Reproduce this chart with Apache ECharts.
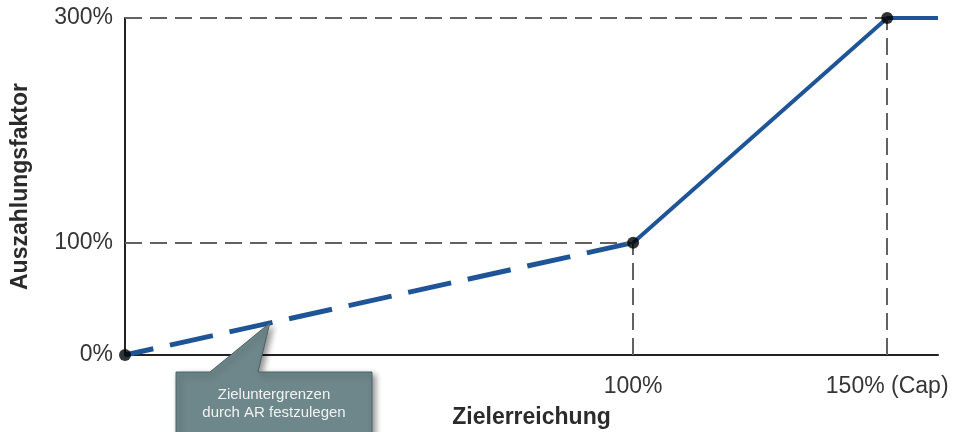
<!DOCTYPE html>
<html>
<head>
<meta charset="utf-8">
<script src="https://cdn.jsdelivr.net/npm/echarts@6/dist/echarts.min.js"></script>
<style>
html,body{margin:0;padding:0;background:#fff;}
#c{width:955px;height:432px;}
</style>
</head>
<body>
<div id="c"></div>
<script>
// Data
var dashedSegment = [[0, 0], [100, 100]];
var solidSegment = [[100, 100], [150, 300], [160, 300]];
var keyPoints = [[0, 0], [100, 100], [150, 300]];
var xTickLabels = {100: '100%', 150: '150% (Cap)'};
var yTickLabels = {0: '0%', 100: '100%', 300: '300%'};
var guideLines = [
  [[0, 100], [100, 100]],
  [[100, 0], [100, 100]],
  [[0, 300], [150, 300]],
  [[150, 0], [150, 300]]
];
var calloutTip = [28.5, 28.5];
var calloutText = 'Zieluntergrenzen\ndurch AR festzulegen';

var blue = '#1F5597';
var chart = echarts.init(document.getElementById('c'));
var font = 'Liberation Sans, Arial, Helvetica, sans-serif';

chart.setOption({
  animation: false,
  grid: {left: 125, right: 17, top: 18, bottom: 77, outerBoundsMode: 'none', containLabel: false},
  xAxis: {
    type: 'value', min: 0, max: 160, interval: 50,
    name: 'Zielerreichung', nameLocation: 'middle', nameGap: 51,
    nameTextStyle: {fontFamily: font, fontSize: 23, fontWeight: 'bold', color: '#2b2b2b'},
    axisLine: {show: true, onZero: false, lineStyle: {color: '#222', width: 2}},
    axisTick: {show: false},
    splitLine: {show: false},
    axisLabel: {
      margin: 20, fontFamily: font, fontSize: 23, color: '#353535',
      formatter: function (v) { return xTickLabels[v] || ''; }
    }
  },
  yAxis: {
    type: 'value', min: 0, max: 300, interval: 100,
    name: 'Auszahlungsfaktor', nameLocation: 'middle', nameGap: 93,
    nameTextStyle: {fontFamily: font, fontSize: 23, fontWeight: 'bold', color: '#2b2b2b'},
    axisLine: {show: true, lineStyle: {color: '#222', width: 2}},
    axisTick: {show: false},
    splitLine: {show: false},
    axisLabel: {
      margin: 12, fontFamily: font, fontSize: 23, color: '#353535',
      formatter: function (v) { return yTickLabels[v] || ''; }
    }
  },
  series: [
    {
      type: 'line', data: [], z: 1, silent: true,
      markLine: {
        silent: true, symbol: 'none', animation: false,
        label: {show: false},
        lineStyle: {color: '#626262', type: [17, 8], width: 2},
        data: guideLines.map(function (p) {
          return [{coord: p[0]}, {coord: p[1]}];
        })
      }
    },
    {
      type: 'line', data: dashedSegment, z: 3, symbol: 'none',
      lineStyle: {color: blue, width: 5, type: [44, 17], dashOffset: 15, cap: 'butt'}
    },
    {
      type: 'line', data: solidSegment, z: 3, symbol: 'none',
      lineStyle: {color: blue, width: 4}
    },
    {
      type: 'scatter', data: keyPoints, z: 5, symbolSize: 12,
      itemStyle: {color: '#000'}
    }
  ]
});

var tip = chart.convertToPixel({gridIndex: 0}, calloutTip);
var boxLeft = 176, boxTop = 372, boxW = 196, boxH = 70;
chart.setOption({
  graphic: [
    {
      type: 'polygon', z: 10,
      shape: {points: [[boxLeft, boxTop], [boxLeft + 34, boxTop], tip, [boxLeft + 82, boxTop], [boxLeft + boxW, boxTop], [boxLeft + boxW, boxTop + boxH], [boxLeft, boxTop + boxH]]},
      style: {fill: '#6E878A', stroke: '#4f6366', lineWidth: 1, shadowBlur: 6, shadowOffsetX: 3, shadowOffsetY: 3, shadowColor: 'rgba(0,0,0,0.45)'}
    },
    {
      type: 'text', z: 11,
      x: boxLeft + boxW / 2, y: 404,
      style: {text: calloutText, fill: '#f2f2f2', font: '15px ' + font, align: 'center', verticalAlign: 'middle', lineHeight: 18}
    }
  ]
});
</script>
</body>
</html>
